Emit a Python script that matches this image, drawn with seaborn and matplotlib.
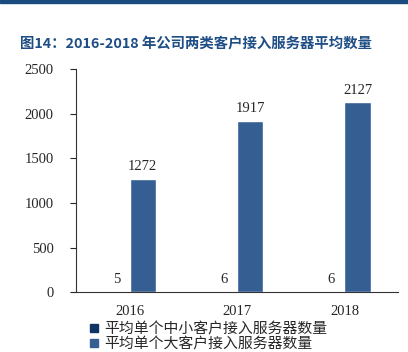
import pandas as pd
import seaborn as sns
import matplotlib.pyplot as plt
from matplotlib.lines import Line2D

# data
years = ["2016", "2017", "2018"]
small_clients = [5, 6, 6]
large_clients = [1272, 1917, 2127]
series_names = ["平均单个中小客户接入服务器数量", "平均单个大客户接入服务器数量"]
colors = ["#0e3466", "#355f93"]

df = pd.DataFrame({
    "year": years * 2,
    "value": small_clients + large_clients,
    "series": [series_names[0]] * 3 + [series_names[1]] * 3,
})

sns.set_style("white")
plt.rcParams["font.family"] = ["Liberation Serif", "Noto Sans CJK SC"]

fig = plt.figure(figsize=(4.08, 3.52), dpi=100)
ax = fig.add_axes([0.186, 0.170, 0.790, 0.634])

sns.barplot(data=df, x="year", y="value", hue="series", palette=colors,
            saturation=1, width=0.49, gap=0, ax=ax, legend=False)

# value labels
for cont in ax.containers:
    ax.bar_label(cont, fmt="%d", padding=4, fontsize=10.5)

ax.set_ylim(0, 2500)
ax.set_yticks(range(0, 2501, 500))
ax.set_xlabel("")
ax.set_ylabel("")
ax.tick_params(axis="y", direction="out", length=4, width=0.8, left=True, labelsize=10.5, pad=12)
ax.tick_params(axis="x", length=0, labelsize=10.5, pad=9)
for s in ["top", "right"]:
    ax.spines[s].set_visible(False)
for s in ["left", "bottom"]:
    ax.spines[s].set_color("#333333")
    ax.spines[s].set_linewidth(0.8)

# legend under the axis
handles = [Line2D([], [], marker="s", linestyle="", color=c, markersize=5.5) for c in colors]
fig.legend(handles, series_names, loc="upper left", bbox_to_anchor=(0.212, 0.085),
           frameon=False, prop={"family": "Noto Sans CJK SC", "size": 10.7},
           handletextpad=0.2, labelspacing=0.08, handlelength=1.0, borderaxespad=0,
           borderpad=0)

# title and top band
fig.text(0.05, 0.866, "图14：2016-2018 年公司两类客户接入服务器平均数量",
         fontsize=10.4, fontweight="bold", color="#1f4e85", family=["Noto Sans CJK SC"])
fig.add_artist(plt.Rectangle((0, 0.991), 1, 0.009, transform=fig.transFigure,
                             color="#1a4a7e", clip_on=False))

fig.savefig("out.png", dpi=100)
